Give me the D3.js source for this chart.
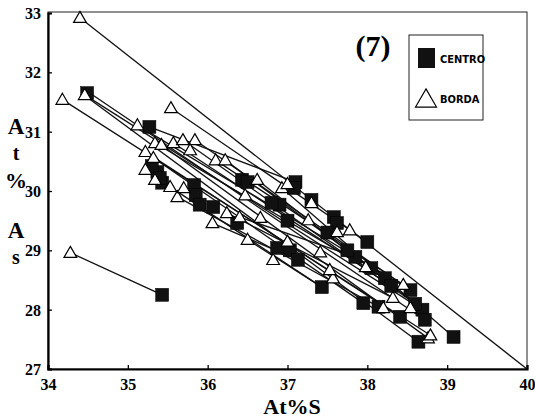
<!DOCTYPE html>
<html><head><meta charset="utf-8">
<script src="https://cdn.jsdelivr.net/npm/d3@7"></script>
<style>
body{margin:0;background:#fff;}
svg{display:block;}
.serif{font-family:"Liberation Serif","DejaVu Serif","Times New Roman",serif;font-weight:bold;}
.narrow{font-family:"Liberation Sans Narrow","Arial Narrow","DejaVu Sans Condensed",sans-serif;font-weight:bold;font-stretch:condensed;}
</style></head>
<body>
<svg id="c" width="535" height="420"></svg>
<script>
// ---- data ----
const xTicks = [34, 35, 36, 37, 38, 39, 40];
const yTicks = [27, 28, 29, 30, 31, 32, 33];
const seriesNames = ["CENTRO", "BORDA"];

const centroX = [34.49,35.27,35.43,35.37,35.43,35.30,35.40,35.83,35.85,35.90,36.07,36.37,36.43,36.50,37.10,37.08,37.30,36.87,37.03,37.13,37.43,37.58,37.62,38.00,37.95,38.22,38.54,38.69,38.72,38.64,39.08,38.41,38.14,37.85,36.90,37.50,37.75,38.05,38.30,38.60,36.80,37.00];
const centroY = [31.65,31.08,28.25,30.32,30.14,30.42,30.22,30.10,29.93,29.77,29.73,29.46,30.19,30.15,30.15,30.05,29.85,29.04,29.00,28.84,28.38,29.56,29.46,29.14,28.11,28.53,28.33,28.00,27.83,27.46,27.54,27.88,28.05,28.89,29.77,29.30,29.00,28.70,28.40,28.10,29.80,29.50];

const bordaX = [34.40,34.18,34.46,34.28,35.12,35.54,35.22,35.32,35.34,35.42,35.57,35.69,35.84,35.78,35.22,35.34,35.53,35.62,35.70,36.10,36.22,36.47,36.62,36.50,36.24,36.06,36.40,36.93,37.00,37.30,36.82,37.00,37.78,37.98,38.45,38.54,38.76,38.79,38.32,37.57,37.53,37.41,37.62,37.26,36.66,38.20];
const bordaY = [32.92,31.54,31.62,28.96,31.11,31.40,30.66,30.56,30.81,30.78,30.81,30.86,30.86,30.69,30.36,30.19,30.07,29.90,30.05,30.52,30.52,29.93,30.19,29.18,29.63,29.46,29.56,30.05,30.12,29.80,28.84,29.15,29.34,28.72,28.42,28.03,27.52,27.57,28.20,28.53,28.67,28.97,29.31,29.51,29.55,28.03];

// connecting segments: start (x1,y1) -> end (x2,y2)
const linkX1 = [34.40,34.18,34.46,34.49,34.49,35.12,35.54,34.28,35.22,35.34,35.57,35.84,35.32,35.53,36.06,36.50,35.62,36.10,36.62,36.93,35.27,36.24,35.42,35.69,36.22,36.40];
const linkY1 = [32.92,31.54,31.62,31.68,31.58,31.11,31.40,28.96,30.66,30.81,30.81,30.86,30.56,30.07,29.46,29.18,29.90,30.52,30.19,30.05,31.08,29.63,30.78,30.86,30.52,29.56];
const linkX2 = [40.00,38.79,38.69,38.72,38.64,38.54,38.00,35.43,38.41,38.22,38.30,38.54,37.95,37.43,37.13,37.43,38.14,38.45,38.60,39.08,37.10,38.32,38.76,38.60,38.05,37.85];
const linkY2 = [27.00,27.57,28.00,27.83,27.46,28.33,29.14,28.25,27.88,28.53,28.40,28.33,28.11,28.38,28.84,28.38,28.05,28.42,28.10,27.54,30.15,28.20,27.52,28.10,28.70,28.89];

// ---- drawing ----
const svg = d3.select("#c");
const W = 535, H = 420;
const m = {l:48, r:8, t:13, b:51};
const x = d3.scaleLinear().domain([34,40]).range([m.l, W - m.r]);
const y = d3.scaleLinear().domain([27,33]).range([H - m.b, m.t]);

// frame (thin top/right)
svg.append("rect")
  .attr("x", x(34)).attr("y", y(33) - 1)
  .attr("width", x(40) - x(34)).attr("height", y(27) - y(33) + 1)
  .attr("fill", "none").attr("stroke", "#222").attr("stroke-width", 1);

// links
const links = linkX1.map((d,i)=>({x1:d, y1:linkY1[i], x2:linkX2[i], y2:linkY2[i]}));
svg.append("g").selectAll("line").data(links).join("line")
  .attr("x1", d=>x(d.x1)).attr("y1", d=>y(d.y1))
  .attr("x2", d=>x(d.x2)).attr("y2", d=>y(d.y2))
  .attr("stroke", "#111").attr("stroke-width", 1.3);

// axes
const xAxis = svg.append("g").attr("transform", `translate(0,${y(27)})`)
  .call(d3.axisBottom(x).tickValues(xTicks).tickSize(-4).tickPadding(10).tickFormat(d3.format("d")));
const yAxis = svg.append("g").attr("transform", `translate(${x(34)},0)`)
  .call(d3.axisLeft(y).tickValues(yTicks).tickSize(-4).tickPadding(7).tickFormat(d3.format("d")));
[xAxis, yAxis].forEach(g=>{
  g.attr("font-family", null).attr("font-size", null);
  g.select(".domain").attr("stroke", "#000").attr("stroke-width", 2.2);
  g.selectAll(".tick line").attr("stroke", "#000").attr("stroke-width", 1.3);
  g.selectAll(".tick text").attr("class", "serif").style("font-size", "16px").attr("fill", "#000");
});
yAxis.selectAll(".tick text").attr("dy", "0.35em");

// markers
const sq = 13;
const centro = centroX.map((d,i)=>({x:d, y:centroY[i]}));
const borda = bordaX.map((d,i)=>({x:d, y:bordaY[i]}));
svg.append("g").selectAll("rect").data(centro).join("rect")
  .attr("x", d=>x(d.x) - sq/2).attr("y", d=>y(d.y) - sq/2)
  .attr("width", sq).attr("height", sq)
  .attr("fill", "#111").attr("stroke", "#000").attr("stroke-width", 0.5);
const tri = d3.symbol().type(d3.symbolTriangle).size(70);
svg.append("g").selectAll("path").data(borda).join("path")
  .attr("transform", d=>`translate(${x(d.x)},${y(d.y)+1})`)
  .attr("d", tri)
  .attr("fill", "#fff").attr("stroke", "#000").attr("stroke-width", 1.2);

// panel label
svg.append("text").attr("class","serif").attr("x", 373).attr("y", 56).attr("text-anchor", "middle")
  .style("font-size", "30px").text("(7)");

// legend
const lg = svg.append("g");
lg.append("rect").attr("x", 409).attr("y", 35).attr("width", 74).attr("height", 85)
  .attr("fill", "#fff").attr("stroke", "#222").attr("stroke-width", 1);
lg.append("rect").attr("x", 418).attr("y", 48).attr("width", 17).attr("height", 20).attr("fill", "#111");
lg.append("path").attr("d", d3.symbol().type(d3.symbolTriangle).size(190))
  .attr("transform", "translate(426,101)")
  .attr("fill", "#fff").attr("stroke", "#000").attr("stroke-width", 1.2);
lg.selectAll("text.leg").data(seriesNames).join("text").attr("class","narrow")
  .attr("x", 440).attr("y", (d,i)=> i===0 ? 63 : 103)
  .style("font-size", "11px")
  .text(d=>d);

// axis titles
svg.append("text").attr("class","serif").attr("x", 292).attr("y", 414).attr("text-anchor", "middle")
  .style("font-size", "22px").text("At%S");
const yl = [["A",134,23],["t",160,20],["%",188,22],["A",238,23],["s",264,20]];
svg.append("g").selectAll("text").data(yl).join("text").attr("class","serif")
  .attr("x", 16).attr("y", d=>d[1]).attr("text-anchor", "middle")
  .style("font-size", d=>d[2]+"px")
  .text(d=>d[0]);
</script>
</body></html>
